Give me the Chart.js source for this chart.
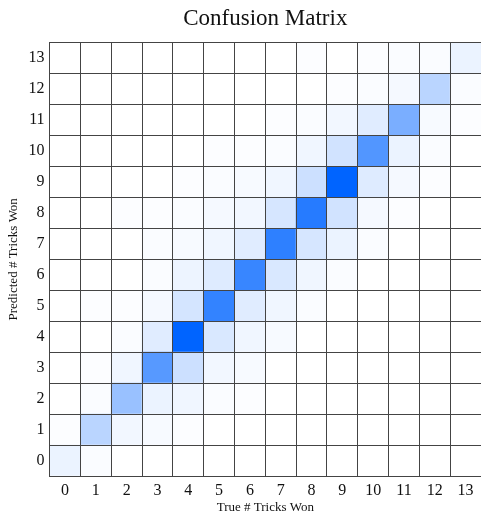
<!DOCTYPE html>
<html>
<head>
<meta charset="utf-8">
<script src="https://cdn.jsdelivr.net/npm/chart.js@4"></script>
<style>
  body { margin: 0; background: #fff; }
  #wrap { width: 481px; height: 519px; }
</style>
</head>
<body>
<div id="wrap"><canvas id="cm"></canvas></div>
<script>
// Tricks (true on x, predicted on y)
const trueLabels = ['0','1','2','3','4','5','6','7','8','9','10','11','12','13'];
const predLabels = ['0','1','2','3','4','5','6','7','8','9','10','11','12','13'];

// Relative cell intensity (0-100), one array per predicted row
const pred0  = [8, 2, 0, 0, 0, 0, 0, 0, 0, 0, 0, 0, 0, 0];
const pred1  = [1, 27, 5, 3, 1, 0, 0, 0, 0, 0, 0, 0, 0, 0];
const pred2  = [0, 2, 40, 8, 6, 2, 1, 0, 0, 0, 0, 0, 0, 0];
const pred3  = [0, 1, 6, 66, 20, 5, 3, 0, 0, 0, 0, 0, 0, 0];
const pred4  = [0, 0, 2, 12, 100, 15, 6, 3, 0, 0, 0, 0, 0, 0];
const pred5  = [0, 1, 1, 4, 17, 80, 12, 6, 2, 0, 0, 0, 0, 0];
const pred6  = [0, 0, 0, 2, 7, 13, 78, 15, 6, 2, 0, 0, 0, 0];
const pred7  = [0, 0, 0, 2, 3, 6, 12, 82, 16, 8, 2, 0, 0, 0];
const pred8  = [0, 0, 1, 1, 2, 4, 5, 16, 85, 18, 4, 1, 0, 0];
const pred9  = [0, 0, 0, 0, 1, 2, 3, 6, 20, 100, 13, 4, 1, 0];
const pred10 = [0, 0, 0, 0, 0, 1, 1, 2, 6, 18, 68, 8, 2, 0];
const pred11 = [0, 0, 0, 0, 0, 0, 0, 1, 2, 5, 12, 52, 3, 1];
const pred12 = [0, 0, 0, 0, 0, 0, 0, 0, 0, 1, 2, 4, 27, 2];
const pred13 = [0, 0, 0, 0, 0, 0, 0, 0, 1, 0, 1, 2, 2, 8];
const rows = [pred0, pred1, pred2, pred3, pred4, pred5, pred6, pred7, pred8, pred9, pred10, pred11, pred12, pred13];

// white -> blue
function cellColor(v) {
  const t = v / 100;
  const r = Math.round(255 * (1 - t));
  const g = Math.round(255 - 155 * t);
  return `rgb(${r},${g},255)`;
}

const datasets = rows.map((row, i) => ({
  label: predLabels[i],
  data: row.map(() => 1),
  backgroundColor: row.map(cellColor),
  borderWidth: 0,
  barPercentage: 1,
  categoryPercentage: 1,
}));

const ctx = document.getElementById('cm').getContext('2d');
const serif = "'Liberation Serif', 'Times New Roman', serif";

new Chart(ctx, {
  type: 'bar',
  data: { labels: trueLabels, datasets: datasets },
  options: {
    responsive: true,
    maintainAspectRatio: false,
    animation: false,
    layout: { padding: { left: 6, right: 0, top: 2, bottom: 5 } },
    plugins: {
      legend: { display: false },
      tooltip: { enabled: false },
      title: {
        display: true,
        text: 'Confusion Matrix',
        fullSize: false,
        color: '#111',
        font: { family: serif, size: 23, weight: 'normal' },
        padding: { top: 3, bottom: 10 },
      },
    },
    scales: {
      x: {
        stacked: true,
        grid: { color: '#444', lineWidth: 1, drawTicks: false, offset: true, z: 1 },
        border: { color: '#444', z: 1 },
        ticks: { color: '#111', font: { family: serif, size: 16, lineHeight: 1 }, padding: 7 },
        title: {
          display: true,
          text: 'True # Tricks Won',
          color: '#111',
          font: { family: serif, size: 13, lineHeight: 1 },
          padding: { top: -5, bottom: 0 },
        },
      },
      y: {
        stacked: true,
        position: 'right',
        min: 0,
        max: 14,
        grid: { color: '#444', lineWidth: 1, drawTicks: false, z: 1 },
        border: { display: false },
        ticks: { display: false, stepSize: 1 },
      },
      yl: {
        position: 'left',
        min: 0,
        max: 14,
        grid: { display: false, drawTicks: false },
        border: { color: '#444', z: 1 },
        afterBuildTicks: (axis) => {
          axis.ticks = predLabels.map((_, i) => ({ value: i + 0.5 }));
        },
        ticks: {
          color: '#111',
          font: { family: serif, size: 16 },
          padding: 5,
          callback: (v) => predLabels[Math.floor(v)],
        },
        title: {
          display: true,
          text: 'Predicted # Tricks Won',
          color: '#111',
          font: { family: serif, size: 13 },
          padding: { top: 0, bottom: 2 },
        },
      },
    },
  },
});
</script>
</body>
</html>
